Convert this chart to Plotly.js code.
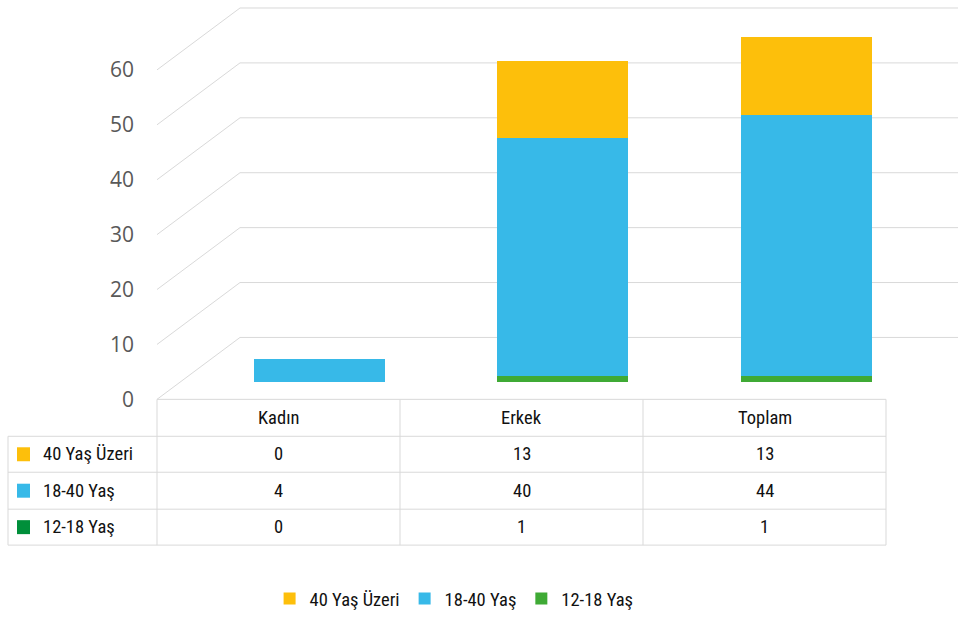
<!DOCTYPE html>
<html><head><meta charset="utf-8">
<script src="https://cdn.plot.ly/plotly-3.0.1.min.js"></script>
<style>body{margin:0;background:#fff}#c{width:958px;height:618px}</style>
</head><body><div id="c"></div>
<script>
const categories = ["Kadın", "Erkek", "Toplam"];
const seriesNames = ["40 Yaş Üzeri", "18-40 Yaş", "12-18 Yaş"];
const over40 = [0, 13, 13];
const age18to40 = [4, 40, 44];
const age12to18 = [0, 1, 1];
const yTicks = [0, 10, 20, 30, 40, 50, 60];

const seriesValues = [over40, age18to40, age12to18];
const seriesColors = ["#FDBF0B", "#37B9E8", "#3FAA35"];
const markerColors = ["#FDBF0B", "#37B9E8", "#008F3A"];

const W = 958, H = 618;
const px = x => x / W;
const py = y => 1 - y / H;
const FONT = "'Roboto Condensed','DejaVu Sans Condensed',sans-serif";
const GRID = "#D9D9D9";

// bars: stacked bottom to top (12-18, 18-40, 40+)
const traces = [];
for (let i = seriesNames.length - 1; i >= 0; i--) {
  traces.push({
    type: "bar", x: categories, y: seriesValues[i], name: seriesNames[i],
    marker: {color: seriesColors[i], line: {width: 0}},
    hoverinfo: "x+y+name"
  });
}

// y scales
const barBase = 383, barScale = 5.96;      // px
const tickBase = 400, tickScale = 5.5;     // px
const depthUnits = 62 / tickScale;

const shapes = [];
yTicks.forEach(v => {
  shapes.push({type: "path", xref: "paper", yref: "y2", layer: "below",
    path: `M ${px(157)},${v} L ${px(240)},${v + depthUnits} L 1,${v + depthUnits}`,
    line: {color: GRID, width: 1}});
});

// data table
const colX = [157, 400, 643, 886];
const rowY = [400, 437, 473, 510, 546];
const line = (x0, y0, x1, y1) => ({type: "line", xref: "paper", yref: "paper",
  x0: px(x0), y0: py(y0), x1: px(x1), y1: py(y1), line: {color: GRID, width: 1}});
shapes.push(line(colX[0], rowY[0], colX[3], rowY[0]));
for (let r = 1; r < rowY.length; r++) shapes.push(line(8, rowY[r], colX[3], rowY[r]));
colX.forEach(x => shapes.push(line(x, rowY[0], x, rowY[4])));
shapes.push(line(8, rowY[1], 8, rowY[4]));

const annotations = [];
const txt = (x, y, t, anchor) => ({xref: "paper", yref: "paper", x: px(x), y: py(y),
  text: t, showarrow: false, xanchor: anchor || "center", yanchor: "middle",
  font: {family: FONT, size: 18.5, color: "#111111"}});
categories.forEach((c, j) => annotations.push(txt((colX[j] + colX[j + 1]) / 2, (rowY[0] + rowY[1]) / 2, c)));
seriesNames.forEach((s, i) => {
  const yc = (rowY[i + 1] + rowY[i + 2]) / 2;
  shapes.push({type: "rect", xref: "paper", yref: "paper",
    x0: px(17), x1: px(30), y0: py(yc - 7), y1: py(yc + 7),
    fillcolor: markerColors[i], line: {width: 0}});
  annotations.push(txt(41, yc, s, "left"));
  seriesValues[i].forEach((v, j) => annotations.push(txt((colX[j] + colX[j + 1]) / 2, yc, String(v))));
});

const layout = {
  width: W, height: H,
  margin: {l: 0, r: 0, t: 0, b: 0},
  paper_bgcolor: "#fff", plot_bgcolor: "rgba(0,0,0,0)",
  barmode: "stack", bargap: 0.462,
  showlegend: true,
  legend: {orientation: "h", x: 0.474, xanchor: "center", y: py(600), yanchor: "middle",
    traceorder: "reversed", font: {family: FONT, size: 18.5, color: "#111111"}},
  xaxis: {domain: [px(197.25), px(927.75)], range: [-0.5, 2.5], showticklabels: false,
    showgrid: false, zeroline: false, showline: false, fixedrange: true},
  yaxis: {domain: [0, 1], range: [-(H - barBase) / barScale, barBase / barScale],
    visible: false, fixedrange: true},
  yaxis2: {overlaying: "y", anchor: "free", position: px(134), side: "left",
    range: [-(H - tickBase) / tickScale, tickBase / tickScale],
    tickvals: yTicks, ticktext: yTicks.map(String), showgrid: false, zeroline: false,
    showline: false, ticks: "", tickfont: {family: "'Open Sans',sans-serif", size: 21, color: "#595959"},
    fixedrange: true},
  shapes: shapes, annotations: annotations
};
// invisible trace so that yaxis2 is drawn
traces.push({type: "scatter", x: [categories[0]], y: [0], yaxis: "y2", mode: "none",
  showlegend: false, hoverinfo: "skip"});

Plotly.newPlot("c", traces, layout, {displayModeBar: false, staticPlot: true});
</script></body></html>
